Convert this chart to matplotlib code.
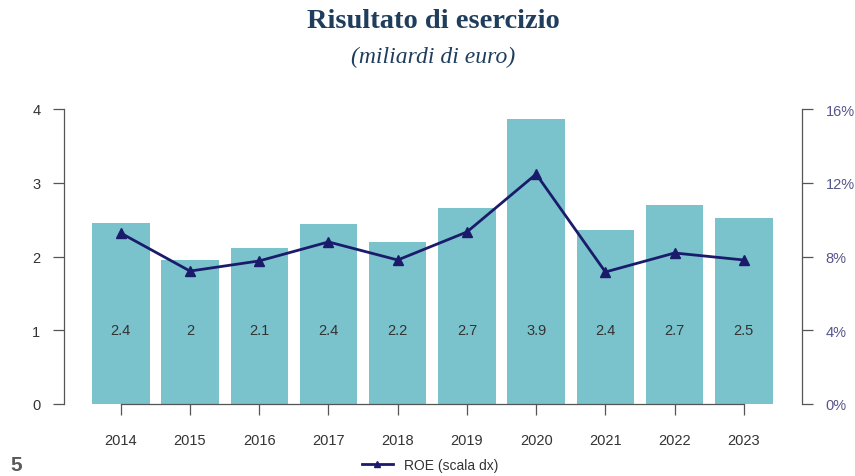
import matplotlib
matplotlib.use('Agg')
import matplotlib.pyplot as plt
from matplotlib.lines import Line2D

# ── Data ──────────────────────────────────────────────────────────────────────
years = ['2014', '2015', '2016', '2017', '2018', '2019', '2020', '2021', '2022', '2023']
utile = [2.45, 1.95, 2.12, 2.44, 2.20, 2.66, 3.86, 2.36, 2.70, 2.52]
utile_labels = ['2.4', '2', '2.1', '2.4', '2.2', '2.7', '3.9', '2.4', '2.7', '2.5']
roe = [9.27, 7.21, 7.76, 8.79, 7.81, 9.33, 12.47, 7.16, 8.19, 7.81]

BAR_COLOR = '#7bc3cc'
LINE_COLOR = '#1b1b6b'
TITLE_COLOR = '#1f3d5c'

plt.rcParams['font.family'] = ['Liberation Sans', 'DejaVu Sans']

fig = plt.figure(figsize=(8.55, 4.77), dpi=100)
ax = fig.add_axes([64 / 855, 1 - 405 / 477, (802 - 64) / 855, (405 - 110) / 477])

x = list(range(len(years)))
ax.bar(x, utile, width=0.83, color=BAR_COLOR, zorder=1)
for xi, lab in zip(x, utile_labels):
    ax.text(xi, 1.0, lab, ha='center', va='center', fontsize=10.5, color='#333333')

ax.set_xlim(-0.82, 9.84)
ax.set_ylim(0, 4)
ax.set_yticks([0, 1, 2, 3, 4])
ax.set_xticks(x)
ax.set_xticklabels(years)
ax.spines['top'].set_visible(False)
ax.spines['right'].set_visible(False)
ax.spines['left'].set_bounds(0, 4)
ax.spines['bottom'].set_bounds(0, 9)
for s in ('left', 'bottom'):
    ax.spines[s].set_color('#555555')
    ax.spines[s].set_linewidth(0.9)
ax.tick_params(axis='y', direction='out', length=8, width=0.9, color='#555555',
               labelsize=10.5, labelcolor='#333333', pad=9)
ax.tick_params(axis='x', direction='out', length=8, width=0.9, color='#555555',
               labelsize=10.5, labelcolor='#333333', pad=13)

# right axis: ROE
ax2 = ax.twinx()
ax2.plot(x, roe, color=LINE_COLOR, linewidth=2, marker='^', markersize=7.5, zorder=3)
ax2.set_ylim(0, 16)
ax2.set_yticks([0, 4, 8, 12, 16])
ax2.set_yticklabels(['0%', '4%', '8%', '12%', '16%'])
for s in ('top', 'left', 'bottom'):
    ax2.spines[s].set_visible(False)
ax2.spines['right'].set_bounds(0, 16)
ax2.spines['right'].set_color('#555555')
ax2.spines['right'].set_linewidth(0.9)
ax2.tick_params(axis='y', direction='out', length=8, width=0.9, color='#555555',
                labelsize=10.5, labelcolor='#55558a', pad=9)

# titles
fig.text(433 / 855, 1 - 22 / 477, 'Risultato di esercizio', ha='center', va='center',
         fontsize=20.5, fontweight='bold', color=TITLE_COLOR, family='Liberation Serif')
fig.text(433 / 855, 1 - 57 / 477, '(miliardi di euro)', ha='center', va='center',
         fontsize=17, style='italic', color=TITLE_COLOR, family='Liberation Serif')

# legend
handle = Line2D([], [], color=LINE_COLOR, linewidth=2, marker='^', markersize=5)
fig.legend(handles=[handle], labels=['ROE (scala dx)'], loc='center',
           bbox_to_anchor=(430 / 855, 1 - 466 / 477), frameon=False, fontsize=10,
           handlelength=2.2, labelcolor='#333333')

# page number
fig.text(10 / 855, 1 - 466 / 477, '5', ha='left', va='center', fontsize=15,
         fontweight='bold', color='#5a5a5a')

fig.savefig('out.png', dpi=100)
